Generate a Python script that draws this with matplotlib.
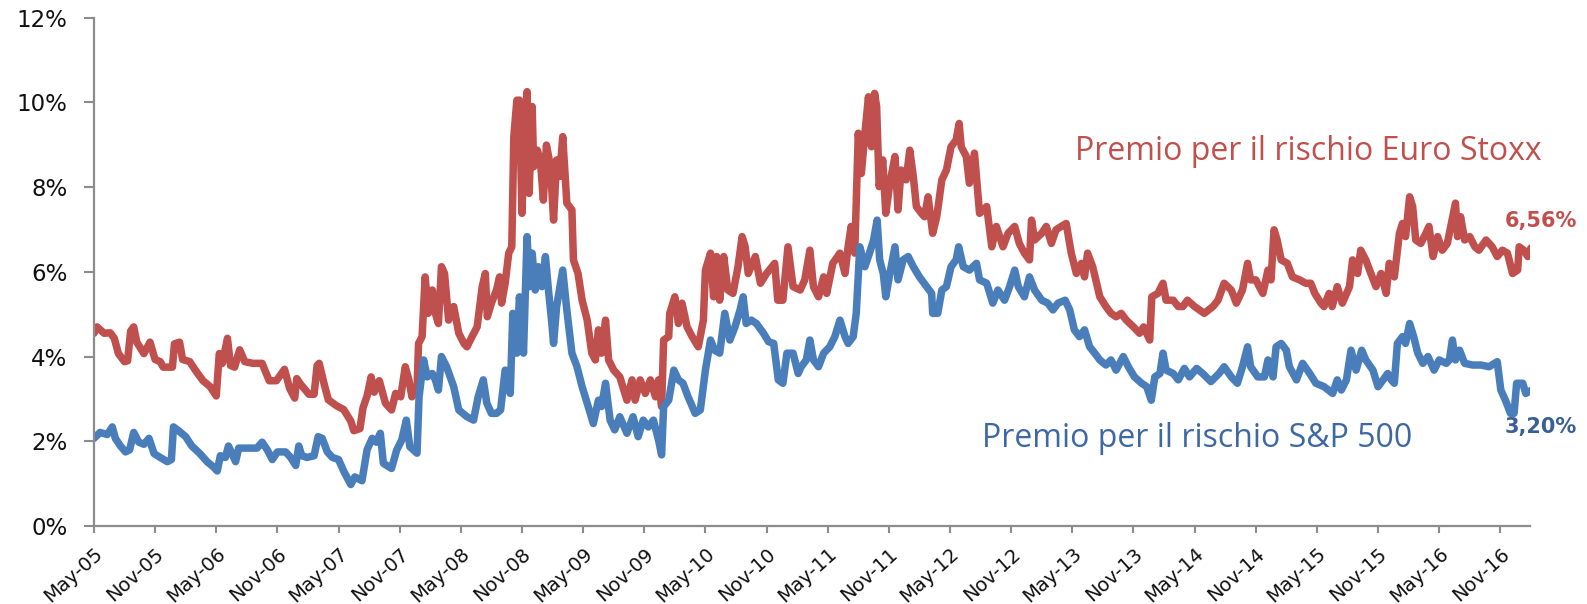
"""
Equity risk premium: Euro Stoxx vs S&P 500, May-05 to early 2017.
"""

import matplotlib
matplotlib.use("Agg")
import matplotlib.pyplot as plt

# ---------------------------------------------------------------------------
# Data (months since May-2005, risk premium in %)
# ---------------------------------------------------------------------------

euro_months = [
    0.0, 0.3, 1.0, 1.6, 2.0, 2.4, 3.0, 3.3, 3.6, 3.9, 4.2, 4.9, 5.5, 6.0, 6.5,
    6.8, 7.7, 7.9, 8.4, 8.7, 9.4, 10.0, 10.7, 11.4, 12.0, 12.3, 12.6, 13.1,
    13.4, 13.8, 14.3, 14.8, 15.6, 16.5, 17.2, 17.9, 18.7, 19.2, 19.7, 19.9,
    20.3, 21.1, 21.6, 21.9, 22.1, 22.6, 23.0, 23.8, 24.5, 25.2, 25.5, 26.1,
    26.4, 26.8, 27.2, 27.5, 28.0, 28.6, 29.2, 29.6, 30.1, 30.55, 30.9, 31.2,
    31.7, 31.85, 32.2, 32.5, 32.8, 33.2, 33.5, 33.8, 34.1, 34.4, 34.8, 35.3,
    35.8, 36.3, 36.6, 37.1, 37.6, 38.1, 38.4, 38.6, 39.0, 39.5, 39.8, 40.0,
    40.35, 40.7, 41.0, 41.2, 41.5, 41.75, 42.0, 42.25, 42.5, 42.7, 43.0,
    43.15, 43.5, 43.8, 44.1, 44.4, 44.8, 45.1, 45.4, 45.7, 46.0, 46.4, 46.9,
    47.05, 47.5, 47.9, 48.4, 48.85, 49.2, 49.5, 49.8, 50.2, 50.5, 51.0, 51.6,
    52.3, 52.8, 53.1, 53.6, 54.1, 54.6, 55.1, 55.4, 55.7, 55.9, 56.4, 56.5,
    57.0, 57.35, 57.7, 58.2, 58.7, 59.3, 59.8, 60.0, 60.5, 60.8, 61.1, 61.4,
    61.8, 62.2, 62.7, 63.2, 63.6, 63.9, 64.2, 64.9, 65.4, 66.0, 66.8, 67.1,
    67.6, 68.1, 68.6, 69.3, 69.75, 70.25, 70.6, 71.1, 71.6, 71.9, 72.5, 73.2,
    73.7, 74.0, 74.3, 74.65, 75.0, 75.3, 75.65, 76.0, 76.3, 76.6, 76.8,
    77.05, 77.4, 77.7, 78.1, 78.6, 78.9, 79.2, 79.7, 80.05, 80.4, 80.7, 81.2,
    81.5, 81.85, 82.3, 82.7, 83.2, 83.65, 84.1, 84.6, 84.9, 85.1, 85.6, 85.9,
    86.4, 86.9, 87.6, 88.1, 88.55, 89.2, 89.7, 90.35, 90.8, 91.3, 91.8, 92.0,
    92.3, 93.0, 93.45, 93.95, 94.4, 94.9, 95.4, 95.9, 96.4, 96.9, 97.2, 97.5,
    98.0, 98.7, 99.3, 99.8, 100.3, 100.8, 101.3, 102.0, 102.6, 103.0, 103.6,
    103.8, 104.4, 104.9, 105.2, 105.9, 106.4, 106.85, 107.3, 108.0, 108.95,
    109.8, 110.3, 110.9, 111.6, 112.1, 112.7, 113.2, 113.5, 114.0, 114.7,
    115.2, 115.5, 115.8, 116.1, 116.5, 117.1, 117.6, 118.3, 118.9, 119.4,
    119.8, 120.4, 120.7, 121.2, 121.5, 122.0, 122.5, 123.2, 123.5, 124.0,
    124.3, 124.8, 125.3, 125.8, 126.3, 126.8, 127.1, 127.6, 128.1, 128.4,
    128.7, 129.1, 129.4, 129.7, 130.2, 130.7, 131.0, 131.4, 131.85, 132.3,
    132.8, 133.2, 133.6, 133.8, 134.1, 134.5, 135.0, 135.5, 135.9, 136.6,
    137.2, 137.7, 138.2, 138.7, 139.2, 139.7, 139.85, 140.3, 140.7, 141.0,
]
euro_premium = [
    4.55, 4.70, 4.55, 4.56, 4.43, 4.07, 3.88, 3.90, 4.60, 4.70, 4.34, 4.07,
    4.34, 3.93, 3.88, 3.75, 3.75, 4.30, 4.34, 3.93, 3.88, 3.66, 3.43, 3.29,
    3.07, 4.07, 3.84, 4.43, 3.79, 3.75, 4.16, 3.88, 3.84, 3.84, 3.43, 3.43,
    3.70, 3.25, 3.02, 3.48, 3.34, 3.11, 3.11, 3.79, 3.84, 3.34, 2.98, 2.84,
    2.75, 2.48, 2.25, 2.30, 2.79, 3.07, 3.52, 3.16, 3.43, 2.90, 2.74, 3.13,
    3.05, 3.76, 3.45, 3.05, 3.21, 4.31, 4.47, 5.88, 5.02, 5.57, 5.02, 4.78,
    6.12, 5.96, 4.86, 5.18, 4.55, 4.31, 4.23, 4.47, 4.70, 5.65, 5.96, 4.94,
    5.26, 5.57, 5.88, 5.26, 5.73, 6.44, 6.59, 9.19, 10.05, 10.05, 7.38, 9.27,
    10.25, 7.85, 9.90, 8.48, 8.87, 8.64, 7.69, 8.99, 8.48, 7.22, 8.64, 8.25,
    9.19, 7.62, 7.46, 6.28, 5.96, 5.33, 4.86, 4.08, 3.92, 4.63, 4.08, 4.86,
    3.92, 3.68, 3.52, 2.97, 3.45, 2.97, 3.45, 3.13, 3.45, 3.05, 3.45, 2.82,
    4.39, 4.47, 5.02, 5.41, 4.78, 5.26, 4.70, 4.47, 4.23, 4.86, 6.04, 6.44,
    5.41, 6.36, 5.33, 6.36, 5.57, 5.49, 6.12, 6.83, 6.59, 5.96, 6.36, 5.73,
    5.96, 6.20, 5.33, 5.33, 6.59, 5.65, 5.57, 5.81, 6.51, 5.65, 5.41, 5.88,
    5.49, 6.20, 6.44, 5.96, 6.59, 7.07, 6.44, 9.27, 8.32, 9.27, 10.13, 8.95,
    10.21, 9.90, 8.01, 8.64, 7.38, 8.09, 8.72, 7.46, 8.40, 8.17, 8.87, 8.25,
    7.54, 7.38, 7.30, 7.77, 6.91, 7.30, 8.17, 8.40, 8.95, 9.11, 9.50, 8.95,
    8.72, 8.09, 8.80, 7.38, 7.54, 6.59, 7.07, 6.59, 6.91, 7.07, 6.67, 6.44,
    6.28, 7.22, 6.75, 6.91, 7.07, 6.67, 6.99, 7.07, 7.14, 6.44, 5.96, 6.20,
    5.88, 6.44, 6.12, 5.41, 5.18, 5.02, 4.94, 5.02, 4.86, 4.70, 4.55, 4.70,
    4.39, 5.41, 5.49, 5.73, 5.33, 5.33, 5.18, 5.18, 5.33, 5.18, 5.02, 5.18,
    5.33, 5.73, 5.57, 5.26, 5.57, 6.20, 5.81, 5.81, 5.49, 6.04, 5.81, 6.99,
    6.75, 6.28, 6.20, 5.88, 5.81, 5.73, 5.73, 5.49, 5.26, 5.18, 5.49, 5.18,
    5.65, 5.26, 5.65, 6.28, 5.96, 6.51, 6.28, 5.96, 5.65, 5.96, 5.49, 6.20,
    5.88, 6.91, 7.14, 6.83, 7.77, 7.54, 6.75, 6.67, 6.91, 7.07, 6.36, 6.83,
    6.51, 6.67, 7.14, 7.62, 6.83, 7.30, 6.75, 6.83, 6.59, 6.51, 6.75, 6.59,
    6.36, 6.51, 6.44, 5.96, 6.04, 6.59, 6.51, 6.36, 6.56,
]

sp_months = [
    0.0, 0.6, 1.3, 1.8, 2.1, 2.6, 3.1, 3.5, 3.9, 4.4, 4.9, 5.4, 5.9, 6.5, 7.2,
    7.6, 7.8, 8.3, 9.0, 9.6, 10.4, 11.1, 11.75, 12.1, 12.4, 12.9, 13.2, 13.9,
    14.2, 15.0, 16.0, 16.5, 17.0, 17.5, 18.0, 18.8, 19.3, 19.8, 20.1, 20.4,
    20.9, 21.6, 22.0, 22.4, 22.9, 23.4, 24.0, 24.5, 25.2, 25.6, 26.3, 26.8,
    27.3, 27.7, 28.1, 28.4, 29.2, 29.7, 30.2, 30.65, 31.0, 31.7, 31.9, 32.35,
    32.7, 33.2, 33.5, 33.8, 34.1, 34.6, 35.3, 35.8, 36.6, 37.25, 37.7, 38.2,
    38.55, 39.0, 39.5, 39.9, 40.35, 40.85, 41.1, 41.5, 41.75, 42.15, 42.5,
    42.75, 43.0, 43.3, 43.6, 43.95, 44.3, 44.6, 44.9, 45.1, 45.4, 46.0, 46.4,
    46.9, 47.4, 47.9, 48.4, 49.0, 49.5, 49.8, 50.2, 50.65, 51.1, 51.6, 52.3,
    52.9, 53.4, 53.9, 54.4, 54.9, 55.4, 55.7, 55.9, 56.4, 56.9, 57.35, 57.8,
    58.3, 59.0, 59.5, 60.0, 60.5, 60.9, 61.4, 61.9, 62.4, 62.9, 63.4, 63.7,
    64.0, 64.5, 65.0, 65.7, 66.2, 66.7, 67.15, 67.6, 68.0, 68.6, 69.1, 69.4,
    69.9, 70.25, 70.6, 71.1, 71.6, 72.2, 72.7, 73.2, 73.7, 74.0, 74.5, 74.8,
    75.15, 75.65, 76.1, 76.5, 76.85, 77.1, 77.45, 77.7, 78.1, 78.6, 78.9,
    79.4, 79.9, 80.4, 81.0, 81.7, 82.2, 82.3, 82.8, 83.2, 83.65, 84.1, 84.6,
    84.85, 85.3, 85.9, 86.6, 86.9, 87.6, 88.2, 88.7, 89.35, 89.85, 90.35,
    90.7, 91.3, 91.8, 92.3, 93.0, 93.6, 94.1, 94.6, 95.3, 95.75, 96.2, 96.7,
    97.2, 97.7, 98.2, 98.7, 99.3, 99.8, 100.3, 101.0, 101.5, 102.1, 102.8,
    103.3, 103.75, 104.1, 104.6, 104.9, 105.2, 105.9, 106.4, 107.0, 107.5,
    108.2, 108.8, 109.6, 110.4, 110.9, 111.6, 112.2, 112.7, 113.2, 113.5,
    114.2, 114.85, 115.2, 115.7, 116.0, 116.5, 117.0, 117.3, 118.0, 118.6,
    119.3, 119.9, 120.7, 121.55, 122.0, 122.4, 122.9, 123.35, 123.85, 124.4,
    124.8, 125.5, 126.0, 126.5, 126.95, 127.3, 127.6, 127.9, 128.4, 128.7,
    129.1, 129.5, 129.9, 130.4, 130.9, 131.5, 132.0, 132.7, 133.0, 133.3,
    133.6, 134.0, 134.5, 135.3, 136.1, 136.9, 137.7, 138.05, 138.5, 139.0,
    139.35, 139.6, 140.2, 140.5, 141.0,
]
sp_premium = [
    2.07, 2.21, 2.16, 2.34, 2.07, 1.89, 1.75, 1.80, 2.21, 1.98, 1.93, 2.07,
    1.71, 1.62, 1.52, 1.57, 2.34, 2.25, 2.11, 1.89, 1.71, 1.52, 1.39, 1.30,
    1.66, 1.62, 1.89, 1.52, 1.84, 1.84, 1.84, 1.98, 1.80, 1.57, 1.75, 1.75,
    1.62, 1.43, 1.89, 1.66, 1.62, 1.66, 2.11, 2.07, 1.75, 1.62, 1.57, 1.30,
    0.98, 1.16, 1.07, 1.80, 2.07, 1.98, 2.19, 1.48, 1.36, 1.79, 2.03, 2.50,
    1.87, 1.72, 3.05, 3.92, 3.52, 3.60, 3.45, 3.21, 4.00, 3.76, 3.29, 2.74,
    2.58, 2.50, 3.05, 3.45, 2.90, 2.66, 2.66, 2.74, 3.68, 3.13, 5.02, 4.08,
    5.41, 4.08, 6.83, 5.65, 6.44, 5.57, 6.12, 5.65, 6.36, 5.57, 4.86, 4.31,
    5.18, 6.04, 5.10, 4.08, 3.76, 3.29, 2.90, 2.42, 2.97, 2.82, 3.37, 2.50,
    2.27, 2.58, 2.19, 2.58, 2.11, 2.50, 2.34, 2.50, 2.03, 1.68, 2.82, 2.97,
    3.68, 3.45, 3.37, 3.05, 2.66, 2.74, 3.68, 4.39, 4.15, 4.08, 5.02, 4.39,
    4.70, 5.10, 5.41, 4.78, 4.86, 4.78, 4.55, 4.35, 4.31, 3.45, 3.37, 4.08,
    4.08, 3.60, 3.76, 3.92, 4.39, 3.92, 3.76, 4.08, 4.23, 4.47, 4.86, 4.47,
    4.31, 4.47, 5.02, 6.59, 6.12, 6.44, 6.75, 7.22, 6.28, 5.96, 5.41, 5.96,
    6.59, 5.81, 6.28, 6.36, 6.12, 5.88, 5.65, 5.49, 5.02, 5.02, 5.57, 5.65,
    6.12, 6.28, 6.59, 6.12, 6.04, 6.20, 5.81, 5.73, 5.26, 5.57, 5.33, 5.65,
    6.04, 5.65, 5.41, 5.88, 5.57, 5.33, 5.26, 5.10, 5.26, 5.33, 5.10, 4.63,
    4.47, 4.63, 4.23, 4.08, 3.92, 3.80, 3.92, 3.68, 4.00, 3.76, 3.52, 3.37,
    3.29, 2.97, 3.52, 3.60, 4.08, 3.68, 3.60, 3.45, 3.72, 3.52, 3.72, 3.60,
    3.41, 3.60, 3.76, 3.52, 3.37, 3.76, 4.23, 3.76, 3.52, 3.52, 3.92, 3.52,
    4.23, 4.31, 4.15, 3.76, 3.45, 3.84, 3.60, 3.37, 3.29, 3.13, 3.45, 3.21,
    3.45, 4.15, 3.68, 4.15, 3.92, 3.68, 3.29, 3.45, 3.60, 3.45, 3.37, 4.31,
    4.47, 4.31, 4.78, 4.47, 4.08, 3.84, 4.00, 3.68, 3.92, 3.84, 3.92, 4.39,
    3.92, 4.15, 3.84, 3.80, 3.80, 3.76, 3.88, 3.21, 2.97, 2.66, 2.66, 3.37,
    3.37, 3.13, 3.20,
]

tick_months = list(range(0, 139, 6))
tick_labels = [
    "May-05", "Nov-05", "May-06", "Nov-06", "May-07", "Nov-07", "May-08",
    "Nov-08", "May-09", "Nov-09", "May-10", "Nov-10", "May-11", "Nov-11",
    "May-12", "Nov-12", "May-13", "Nov-13", "May-14", "Nov-14", "May-15",
    "Nov-15", "May-16", "Nov-16",
]
y_ticks = [0, 2, 4, 6, 8, 10, 12]

euro_label = "Premio per il rischio Euro Stoxx"
sp_label = "Premio per il rischio S&P 500"
euro_last = "6,56%"
sp_last = "3,20%"

# ---------------------------------------------------------------------------
# Styling
# ---------------------------------------------------------------------------

RED = "#C0504D"
BLUE = "#4A7EBB"
BLUE_TEXT = "#3D68A3"
GREY = "#8C8C8C"

fig = plt.figure(figsize=(15.87, 6.04), dpi=100)
ax = fig.add_axes([0.0592, 0.129, 0.9048, 0.842])

ax.plot(euro_months, euro_premium, color=RED, linewidth=5.4,
        solid_joinstyle="round", solid_capstyle="round")
ax.plot(sp_months, sp_premium, color=BLUE, linewidth=5.4,
        solid_joinstyle="round", solid_capstyle="round")

ax.set_xlim(0, 140.9)
ax.set_ylim(0, 12)

ax.set_yticks(y_ticks)
ax.set_yticklabels([f"{v}%" for v in y_ticks], fontsize=16.5, color="#111111")
ax.set_xticks(tick_months)
ax.set_xticklabels(tick_labels, fontsize=14, rotation=42, ha="right",
                   rotation_mode="anchor", color="#111111")

for side in ("top", "right"):
    ax.spines[side].set_visible(False)
for side in ("left", "bottom"):
    ax.spines[side].set_color(GREY)
    ax.spines[side].set_linewidth(1.6)

ax.tick_params(axis="y", direction="out", length=7, width=1.5, color=GREY, pad=12)
ax.tick_params(axis="x", direction="out", length=5, width=1.5, color=GREY, pad=8)

# Series annotations
ax.text(96.3, 8.64, euro_label, color=RED, fontsize=23,
        family=["Open Sans", "DejaVu Sans"], va="baseline", ha="left")
ax.text(87.1, 1.86, sp_label, color=BLUE_TEXT, fontsize=23,
        family=["Open Sans", "DejaVu Sans"], va="baseline", ha="left")
ax.text(138.4, 7.2, euro_last, color=RED, fontsize=15, fontweight="bold",
        va="center", ha="left", clip_on=False)
ax.text(138.4, 2.34, sp_last, color="#3A5F94", fontsize=15, fontweight="bold",
        va="center", ha="left", clip_on=False)

fig.savefig("out.png", dpi=100)
